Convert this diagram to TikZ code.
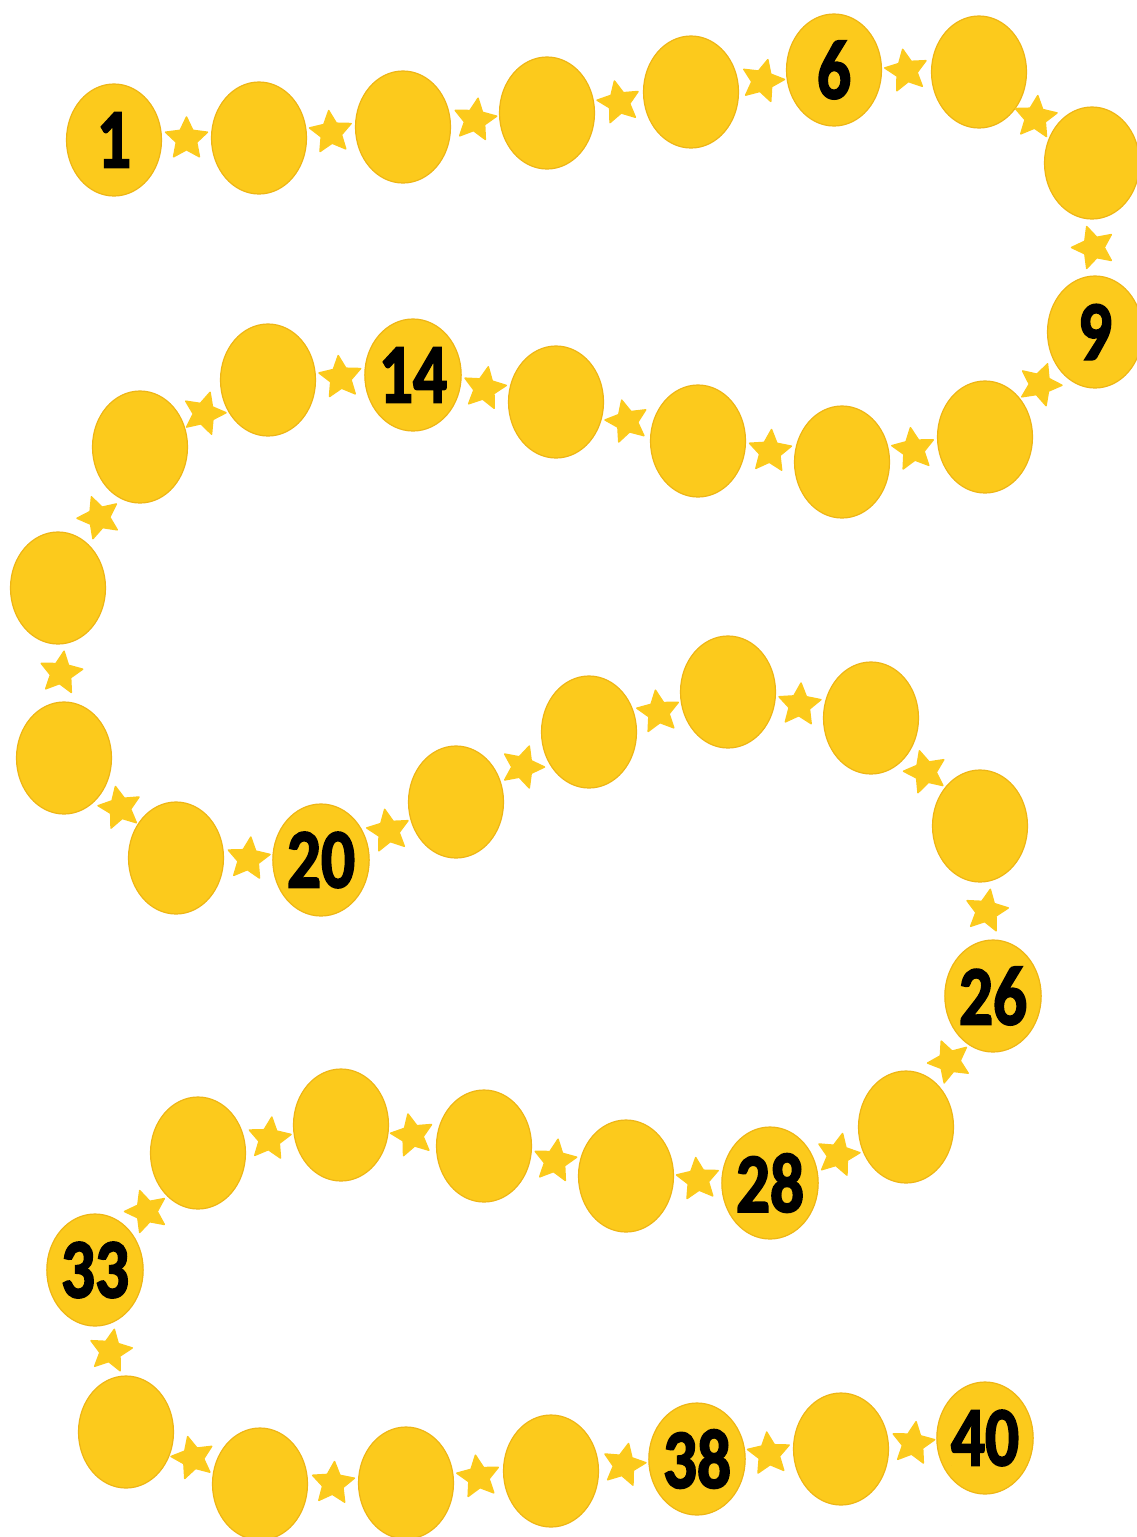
\documentclass[tikz,border=0pt]{standalone}
\usepackage{fontspec}
\newfontfamily\numfont{Carlito}[BoldFeatures={FakeBold=2.5}]
\usetikzlibrary{shapes.geometric,calc}
\definecolor{beadfill}{RGB}{252,202,28}
\definecolor{beadline}{RGB}{238,182,22}
\tikzset{
  bead/.style={ellipse, fill=beadfill, draw=beadline, line width=1.2pt,
    minimum width=95pt, minimum height=112pt, inner sep=0pt,
    font=\numfont\bfseries\fontsize{84}{84}\selectfont, text=black},
  starbox/.style={star, star points=5, star point ratio=2.05, fill=beadfill,
    draw=beadfill, line width=1.5pt, line join=round, minimum size=44pt, inner sep=0pt}
}
\newcommand{\nm}[1]{\scalebox{0.8}[1]{#1}}
\begin{document}
\begin{tikzpicture}[x=1pt,y=-1pt]
\useasboundingbox (0,0) rectangle (1137,1537);
\node[bead] (c1) at (114,140) {\nm{1}};
\node[bead] (c2) at (259,138) {};
\node[bead] (c3) at (403,127) {};
\node[bead] (c4) at (547,113) {};
\node[bead] (c5) at (691,92) {};
\node[bead] (c6) at (834,70) {\nm{6}};
\node[bead] (c7) at (979,72) {};
\node[bead] (c8) at (1092,163) {};
\node[bead] (c9) at (1095,332) {\nm{9}};
\node[bead] (c10) at (985,437) {};
\node[bead] (c11) at (842,462) {};
\node[bead] (c12) at (698,441) {};
\node[bead] (c13) at (556,402) {};
\node[bead] (c14) at (413,375) {\nm{14}};
\node[bead] (c15) at (268,380) {};
\node[bead] (c16) at (140,447) {};
\node[bead] (c17) at (58,588) {};
\node[bead] (c18) at (64,758) {};
\node[bead] (c19) at (176,858) {};
\node[bead] (c20) at (321,860) {\nm{20}};
\node[bead] (c21) at (456,802) {};
\node[bead] (c22) at (589,732) {};
\node[bead] (c23) at (728,692) {};
\node[bead] (c24) at (871,718) {};
\node[bead] (c25) at (980,826) {};
\node[bead] (c26) at (993,996) {\nm{26}};
\node[bead] (c27) at (906,1127) {};
\node[bead] (c28) at (770,1183) {\nm{28}};
\node[bead] (c29) at (626,1176) {};
\node[bead] (c30) at (484,1146) {};
\node[bead] (c31) at (341,1125) {};
\node[bead] (c32) at (198,1153) {};
\node[bead] (c33) at (95,1270) {\nm{33}};
\node[bead] (c34) at (126,1432) {};
\node[bead] (c35) at (260,1484) {};
\node[bead] (c36) at (406,1483) {};
\node[bead] (c37) at (551,1471) {};
\node[bead] (c38) at (697,1459) {\nm{38}};
\node[bead] (c39) at (841,1449) {};
\node[bead] (c40) at (985,1438) {\nm{40}};
\foreach \i/\r in {1/0,2/6,3/-8,4/12,5/-14,6/10,7/-6,8/18,9/-20,10/8,
                   11/-4,12/14,13/-10,14/6,15/-16,16/20,17/-8,18/12,19/-6,20/10,
                   21/-18,22/8,23/-4,24/16,25/-10,26/22,27/-12,28/6,29/-8,30/12,
                   31/-6,32/18,33/-10,34/14,35/-4,36/8,37/-12,38/6,39/-8} {
  \pgfmathtruncatemacro\j{\i+1}
  \node[starbox, rotate=\r] (s\i) at ($(c\i)!0.5!(c\j)$) {};
}
\end{tikzpicture}
\end{document}
